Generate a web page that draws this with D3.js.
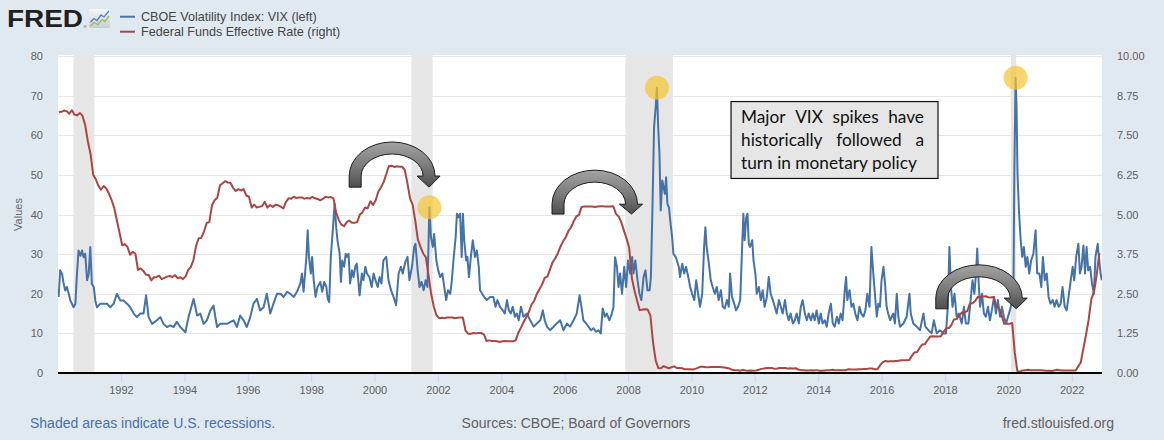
<!DOCTYPE html>
<html><head><meta charset="utf-8">
<script src="https://cdnjs.cloudflare.com/ajax/libs/d3/7.8.5/d3.min.js"></script>
<style>
html,body{margin:0;padding:0;background:#e1e9f0;}
svg{display:block;font-family:"Liberation Sans",Arial,sans-serif;}
</style></head><body>
<svg id="chart" width="1164" height="440"></svg>
<script>
// ---------- DATA ----------
// CBOE VIX (left axis): [decimal year, value]
const vixData = [
[1990.03,19.2],[1990.08,25.9],[1990.14,25.0],[1990.19,22.5],[1990.24,20.8],[1990.29,21.7],[1990.35,20.0],[1990.40,18.3],[1990.45,17.5],[1990.50,16.6],[1990.56,17.5],[1990.61,25.0],[1990.66,30.9],[1990.72,29.6],[1990.77,30.9],[1990.82,29.2],[1990.87,30.1],[1990.93,23.4],[1990.98,25.0],
[1991.03,31.8],[1991.08,22.5],[1991.14,21.7],[1991.19,18.3],[1991.24,16.6],[1991.35,17.5],[1991.45,17.5],[1991.56,17.5],[1991.66,16.6],[1991.77,17.5],[1991.87,20.0],[1991.98,18.3],
[1992.08,18.3],[1992.19,17.5],[1992.29,16.6],[1992.40,15.0],[1992.50,14.1],[1992.61,15.0],[1992.71,15.0],[1992.79,19.6],[1992.87,14.1],[1992.98,12.4],
[1993.13,13.3],[1993.24,14.1],[1993.34,12.4],[1993.45,11.6],[1993.55,12.0],[1993.66,11.6],[1993.76,12.9],[1993.87,11.6],[1993.97,10.8],
[1994.03,10.3],[1994.13,14.1],[1994.29,18.7],[1994.40,14.5],[1994.50,15.0],[1994.61,12.4],[1994.71,13.3],[1994.82,15.8],[1994.92,17.0],
[1995.03,11.6],[1995.13,12.4],[1995.34,12.4],[1995.55,13.3],[1995.66,11.6],[1995.76,14.5],[1995.87,13.3],[1995.97,11.6],
[1996.08,14.1],[1996.18,17.5],[1996.29,18.7],[1996.39,15.8],[1996.50,16.6],[1996.60,20.0],[1996.71,15.0],[1996.81,17.5],[1996.92,20.0],
[1997.03,20.0],[1997.13,19.2],[1997.24,20.5],[1997.34,20.0],[1997.45,19.2],[1997.55,20.5],[1997.66,22.6],[1997.71,25.1],[1997.76,20.5],[1997.85,29.3],[1997.89,36.0],[1997.93,29.3],[1997.99,25.1],
[1998.03,29.3],[1998.08,23.4],[1998.14,19.2],[1998.20,21.7],[1998.29,23.0],[1998.35,20.5],[1998.41,23.0],[1998.48,21.7],[1998.52,18.8],[1998.57,17.9],[1998.62,29.3],[1998.69,36.8],[1998.74,42.7],[1998.79,36.8],[1998.83,33.5],[1998.90,30.1],[1998.94,23.0],[1998.98,28.4],
[1999.04,26.8],[1999.09,30.1],[1999.13,29.3],[1999.18,30.1],[1999.23,22.6],[1999.29,25.9],[1999.34,24.2],[1999.39,26.8],[1999.44,27.6],[1999.53,19.6],[1999.60,25.1],[1999.65,23.4],[1999.71,26.8],[1999.76,25.1],[1999.84,24.2],[1999.91,21.7],[1999.97,25.1],
[2000.03,23.4],[2000.10,21.7],[2000.16,24.2],[2000.22,22.6],[2000.28,28.4],[2000.37,29.3],[2000.44,23.4],[2000.52,20.9],[2000.60,19.2],[2000.68,17.1],[2000.76,25.1],[2000.83,26.8],[2000.89,25.1],[2000.97,28.0],
[2001.04,29.3],[2001.10,23.4],[2001.18,26.8],[2001.25,31.8],[2001.29,32.6],[2001.36,25.9],[2001.42,21.7],[2001.48,23.0],[2001.55,20.9],[2001.61,23.4],[2001.67,21.7],[2001.73,41.8],[2001.78,34.3],[2001.84,31.8],[2001.88,35.1],[2001.95,28.4],
[2002.01,25.9],[2002.07,24.2],[2002.14,25.1],[2002.20,21.7],[2002.26,18.4],[2002.32,20.9],[2002.39,20.0],[2002.44,23.4],[2002.49,28.4],[2002.56,34.3],[2002.60,40.2],[2002.65,39.3],[2002.70,40.2],[2002.75,29.3],[2002.79,40.2],[2002.83,33.5],[2002.89,28.4],[2002.93,29.3],[2002.98,24.2],
[2003.04,29.3],[2003.10,33.5],[2003.17,29.3],[2003.23,30.9],[2003.29,26.8],[2003.33,20.9],[2003.40,20.0],[2003.46,19.2],[2003.54,18.4],[2003.65,19.2],[2003.75,19.2],[2003.82,16.7],[2003.88,18.4],[2003.96,16.7],
[2004.05,15.8],[2004.11,15.0],[2004.18,18.4],[2004.24,15.8],[2004.30,15.0],[2004.36,16.7],[2004.43,14.2],[2004.49,15.0],[2004.55,13.3],[2004.62,16.7],[2004.70,14.2],[2004.81,15.0],[2004.91,13.3],
[2005.02,11.7],[2005.12,12.5],[2005.23,13.3],[2005.31,15.8],[2005.37,13.3],[2005.44,11.7],[2005.54,10.8],[2005.65,11.7],[2005.75,12.5],[2005.86,13.3],[2005.96,10.8],
[2006.07,12.5],[2006.17,11.7],[2006.28,13.3],[2006.38,15.0],[2006.47,19.6],[2006.53,16.7],[2006.59,13.3],[2006.68,12.5],[2006.75,11.7],[2006.83,10.8],[2006.91,11.3],[2006.99,10.4],
[2007.07,10.8],[2007.14,10.0],[2007.20,16.3],[2007.27,14.2],[2007.33,15.0],[2007.41,13.3],[2007.49,15.0],[2007.54,16.7],[2007.59,29.2],[2007.65,26.8],[2007.70,21.7],[2007.75,25.1],[2007.81,20.0],[2007.88,26.8],[2007.94,21.7],
[2008.00,28.4],[2008.07,25.1],[2008.13,29.3],[2008.17,25.1],[2008.23,28.4],[2008.30,23.4],[2008.36,20.0],[2008.42,18.4],[2008.49,24.2],[2008.55,25.9],[2008.61,20.9],[2008.68,20.9],[2008.72,24.2],[2008.77,41.8],[2008.82,62.0],[2008.87,67.0],[2008.91,72.0],[2008.95,62.0],[2008.99,55.3],
[2009.03,41.0],[2009.08,48.6],[2009.12,46.9],[2009.16,45.2],[2009.20,49.4],[2009.24,42.7],[2009.29,41.8],[2009.33,38.5],[2009.39,34.3],[2009.43,30.1],[2009.50,29.3],[2009.54,28.4],[2009.60,26.8],[2009.64,24.2],[2009.71,27.6],[2009.77,25.1],[2009.83,26.8],[2009.90,24.2],[2009.96,21.7],
[2010.02,20.0],[2010.09,18.4],[2010.15,23.4],[2010.21,20.0],[2010.27,16.7],[2010.34,20.0],[2010.40,31.8],[2010.44,36.8],[2010.48,31.8],[2010.55,27.6],[2010.61,23.4],[2010.67,21.7],[2010.74,20.0],[2010.80,21.7],[2010.86,18.4],[2010.93,20.9],[2010.99,16.7],
[2011.05,16.3],[2011.12,18.4],[2011.18,16.7],[2011.22,25.1],[2011.28,19.2],[2011.35,17.5],[2011.41,15.8],[2011.47,16.7],[2011.54,18.4],[2011.60,31.8],[2011.64,40.2],[2011.68,33.5],[2011.73,39.3],[2011.77,40.2],[2011.81,32.6],[2011.85,31.8],[2011.92,33.5],[2011.96,28.4],
[2012.02,25.1],[2012.06,20.0],[2012.13,21.7],[2012.19,18.4],[2012.25,20.9],[2012.31,16.7],[2012.38,19.2],[2012.44,24.2],[2012.50,20.0],[2012.57,18.4],[2012.63,16.7],[2012.69,15.0],[2012.76,18.4],[2012.82,16.7],[2012.88,15.0],[2012.95,18.4],
[2013.01,15.0],[2013.07,13.3],[2013.13,15.0],[2013.20,12.5],[2013.26,13.3],[2013.32,15.0],[2013.39,12.5],[2013.45,16.7],[2013.51,18.4],[2013.58,15.0],[2013.64,13.3],[2013.70,15.0],[2013.77,13.3],[2013.83,15.0],[2013.89,13.3],[2013.95,15.8],
[2014.02,12.5],[2014.08,15.0],[2014.14,12.5],[2014.21,13.3],[2014.27,11.7],[2014.33,15.0],[2014.40,17.5],[2014.46,12.5],[2014.52,11.7],[2014.59,14.2],[2014.65,12.5],[2014.71,15.0],[2014.77,13.3],[2014.84,20.9],[2014.88,24.2],[2014.92,18.4],[2014.99,20.9],
[2015.05,16.7],[2015.11,17.5],[2015.17,15.0],[2015.24,13.3],[2015.30,16.7],[2015.36,15.0],[2015.43,14.2],[2015.49,15.8],[2015.55,20.0],[2015.62,16.7],[2015.68,31.8],[2015.74,25.1],[2015.79,20.0],[2015.85,14.2],[2015.90,17.5],[2015.95,16.7],
[2016.00,23.4],[2016.06,26.8],[2016.11,22.6],[2016.16,16.7],[2016.21,15.0],[2016.27,13.3],[2016.32,14.2],[2016.37,15.0],[2016.42,12.5],[2016.48,20.0],[2016.53,14.2],[2016.58,11.7],[2016.69,12.5],[2016.79,14.2],[2016.88,20.0],[2016.92,15.0],
[2017.00,12.5],[2017.11,11.7],[2017.21,10.8],[2017.32,15.0],[2017.38,11.7],[2017.48,10.8],[2017.58,10.0],[2017.65,13.3],[2017.74,10.0],[2017.84,10.8],[2017.95,10.0],
[2018.03,10.0],[2018.09,16.7],[2018.14,31.8],[2018.19,21.7],[2018.24,16.7],[2018.30,20.0],[2018.37,14.2],[2018.44,15.0],[2018.53,12.5],[2018.60,16.7],[2018.66,12.5],[2018.74,12.5],[2018.81,18.4],[2018.87,23.4],[2018.93,20.0],[2018.98,25.1],
[2019.02,31.4],[2019.06,23.4],[2019.11,16.7],[2019.17,20.0],[2019.23,15.0],[2019.29,14.2],[2019.36,16.7],[2019.42,13.3],[2019.48,15.8],[2019.55,19.2],[2019.61,15.0],[2019.67,18.4],[2019.74,14.2],[2019.80,16.7],[2019.86,14.2],[2019.93,12.5],[2019.99,14.2],
[2020.05,15.8],[2020.10,17.5],[2020.16,18.4],[2020.19,50.2],[2020.23,74.5],[2020.26,67.0],[2020.29,50.2],[2020.34,40.2],[2020.39,33.5],[2020.44,29.3],[2020.49,31.8],[2020.55,26.8],[2020.60,29.3],[2020.66,25.1],[2020.72,28.4],[2020.79,30.1],[2020.86,36.0],[2020.91,25.1],[2020.98,25.1],
[2021.04,21.7],[2021.09,29.3],[2021.15,23.4],[2021.21,25.1],[2021.27,19.2],[2021.33,17.5],[2021.40,18.4],[2021.46,16.7],[2021.52,18.4],[2021.59,16.7],[2021.65,17.5],[2021.71,21.7],[2021.78,16.7],[2021.84,15.8],[2021.90,19.2],[2021.97,23.4],
[2022.03,26.8],[2022.08,23.4],[2022.14,29.3],[2022.21,32.6],[2022.26,25.1],[2022.31,26.8],[2022.37,32.2],[2022.42,25.1],[2022.47,31.8],[2022.52,25.9],[2022.58,26.8],[2022.64,22.6],[2022.70,20.0],[2022.75,29.3],[2022.82,32.6],[2022.87,28.4],[2022.91,25.1],[2022.95,23.4]
];

// Federal Funds Effective Rate (right axis), monthly from Jan 1990
const ffStartYear = 1990;
const ffValues = [
8.23,8.24,8.28,8.26,8.18,8.29,8.15,8.13,8.20,8.11,7.81,7.31,
6.91,6.25,6.12,5.91,5.78,5.90,5.82,5.66,5.45,5.21,4.81,4.43,
4.03,4.06,3.98,3.73,3.82,3.76,3.25,3.30,3.22,3.10,3.09,2.92,
3.02,3.03,3.07,2.96,3.00,3.04,3.06,3.03,3.09,2.99,3.02,2.96,
3.05,3.25,3.34,3.56,4.01,4.25,4.26,4.47,4.73,4.76,5.29,5.45,
5.53,5.92,5.98,6.05,6.01,6.00,5.85,5.74,5.80,5.76,5.80,5.60,
5.56,5.22,5.31,5.22,5.24,5.27,5.40,5.22,5.30,5.24,5.31,5.29,
5.25,5.19,5.39,5.51,5.50,5.56,5.52,5.54,5.54,5.50,5.52,5.50,
5.56,5.51,5.49,5.45,5.49,5.56,5.54,5.55,5.51,5.07,4.83,4.68,
4.63,4.76,4.81,4.74,4.74,4.76,4.99,5.07,5.22,5.20,5.42,5.30,
5.45,5.73,5.85,6.02,6.27,6.53,6.54,6.50,6.52,6.51,6.51,6.40,
5.98,5.49,5.31,4.80,4.21,3.97,3.77,3.65,3.07,2.49,2.09,1.82,
1.73,1.74,1.73,1.75,1.75,1.75,1.73,1.74,1.75,1.75,1.34,1.24,
1.24,1.26,1.25,1.26,1.26,1.22,1.01,1.03,1.01,1.01,1.00,0.98,
1.00,1.01,1.00,1.00,1.00,1.03,1.26,1.43,1.61,1.76,1.93,2.16,
2.28,2.50,2.63,2.79,3.00,3.04,3.26,3.50,3.62,3.78,4.00,4.16,
4.29,4.49,4.59,4.79,4.94,4.99,5.24,5.25,5.25,5.25,5.25,5.24,
5.25,5.26,5.26,5.25,5.25,5.25,5.26,5.02,4.94,4.76,4.49,4.24,
3.94,2.98,2.61,2.28,1.98,2.00,2.01,2.00,1.81,0.97,0.39,0.16,
0.15,0.22,0.18,0.15,0.18,0.21,0.16,0.16,0.15,0.12,0.12,0.12,
0.11,0.13,0.16,0.20,0.20,0.18,0.18,0.19,0.19,0.19,0.19,0.18,
0.17,0.16,0.14,0.10,0.09,0.09,0.07,0.10,0.08,0.07,0.08,0.07,
0.08,0.10,0.13,0.14,0.16,0.16,0.16,0.13,0.14,0.16,0.16,0.16,
0.14,0.15,0.14,0.15,0.11,0.09,0.09,0.08,0.08,0.09,0.08,0.09,
0.07,0.07,0.08,0.09,0.09,0.10,0.09,0.09,0.09,0.09,0.09,0.12,
0.11,0.11,0.11,0.12,0.12,0.13,0.13,0.14,0.14,0.12,0.12,0.24,
0.34,0.38,0.36,0.37,0.37,0.38,0.39,0.40,0.40,0.40,0.41,0.54,
0.65,0.66,0.79,0.90,0.91,1.04,1.15,1.16,1.15,1.15,1.16,1.30,
1.41,1.42,1.51,1.69,1.70,1.82,1.91,1.91,1.95,2.19,2.20,2.27,
2.40,2.40,2.41,2.42,2.39,2.38,2.40,2.13,2.04,1.83,1.55,1.55,
1.55,1.58,0.65,0.05,0.05,0.08,0.09,0.10,0.09,0.09,0.09,0.09,
0.09,0.08,0.07,0.07,0.06,0.08,0.10,0.09,0.08,0.08,0.08,0.08,
0.08,0.08,0.20,0.33,0.77,1.21,1.68,2.33,2.56,3.08,3.78
];

const recessions = [["1990-07-01","1991-03-01"],["2001-03-01","2001-11-01"],["2007-12-01","2009-06-01"],["2020-02-01","2020-04-01"]];
const leftTicks = [0,10,20,30,40,50,60,70,80];
const rightTicks = [0,1.25,2.5,3.75,5,6.25,7.5,8.75,10];
const xTickYears = [1992,1994,1996,1998,2000,2002,2004,2006,2008,2010,2012,2014,2016,2018,2020,2022];
const legendItems = ["CBOE Volatility Index: VIX (left)","Federal Funds Effective Rate (right)"];
const highlightPeaks = [2001.73, 2008.91, 2020.23];   // VIX spikes circled
// curved arrows: left edge (year), tip (year), base / top / leg bottom (left-axis units)
const arrows = [
  {left:1999.20, tip:2001.72, base:49.7, top:58.3, leg:46.9},
  {left:2005.60, tip:2008.11, base:42.6, top:51.2, leg:40.1},
  {left:2017.71, tip:2020.25, base:18.9, top:27.3, leg:16.2}
];
const noteBox = {x0:2011.25, x1:2017.78, yTop:68.5, yBottom:49.1};
const noteLines = ["Major VIX spikes have","historically followed a","turn in monetary policy"];
const footerLeft = "Shaded areas indicate U.S. recessions.";
const footerMid = "Sources: CBOE; Board of Governors";
const footerRight = "fred.stlouisfed.org";

// ---------- HELPERS ----------
function toDate(y){const yr=Math.floor(y);const s=Date.UTC(yr,0,1),e=Date.UTC(yr+1,0,1);return new Date(s+(y-yr)*(e-s));}
const ffData = ffValues.map((v,i)=>[new Date(Date.UTC(ffStartYear+Math.floor(i/12), i%12, 15)), v]);

const W=1164,H=440, L=58,R=1102,T=56,B=373;
const svg=d3.select("#chart");
const x=d3.scaleTime().domain([new Date(Date.UTC(1990,0,5)),new Date(Date.UTC(2022,11,16))]).range([L,R]);
const y=d3.scaleLinear().domain([0,80]).range([B,T]);
const y2=d3.scaleLinear().domain([0,10]).range([B,T]);

svg.append("rect").attr("width",W).attr("height",H).attr("fill","#e1e9f0");
svg.append("rect").attr("x",L).attr("y",T-1).attr("width",R-L).attr("height",B-T+1).attr("fill","#ffffff");

const defs=svg.append("defs");
defs.append("clipPath").attr("id","plotclip").append("rect").attr("x",L).attr("y",T-1).attr("width",R-L).attr("height",B-T+1);
const g=defs.append("linearGradient").attr("id","arrowgrad").attr("x1",0).attr("y1",0).attr("x2",0).attr("y2",1);
g.append("stop").attr("offset","0%").attr("stop-color","#a3a3a3");
g.append("stop").attr("offset","55%").attr("stop-color","#7a7a7a");
g.append("stop").attr("offset","100%").attr("stop-color","#4e4e4e");
const ig=defs.append("linearGradient").attr("id","icongrad").attr("x1",0).attr("y1",0).attr("x2",0).attr("y2",1);
ig.append("stop").attr("offset","0%").attr("stop-color","#f7f7f7");
ig.append("stop").attr("offset","100%").attr("stop-color","#c9cdd2");

// recessions
svg.append("g").selectAll("rect").data(recessions).join("rect")
  .attr("x",d=>x(new Date(d[0]))).attr("width",d=>x(new Date(d[1]))-x(new Date(d[0])))
  .attr("y",T-1).attr("height",B-T+1).attr("fill","#e6e6e6");

// grid
svg.append("g").selectAll("line").data(leftTicks.filter(t=>t>0)).join("line")
  .attr("x1",L).attr("x2",R).attr("y1",d=>Math.round(y(d))+0.5).attr("y2",d=>Math.round(y(d))+0.5)
  .attr("stroke","#e6e6e6").attr("stroke-width",1);

// axes
const xAxis=d3.axisBottom(x).tickValues(xTickYears.map(yy=>new Date(Date.UTC(yy,0,1)))).tickFormat(d3.utcFormat("%Y")).tickSize(9).tickPadding(4);
const gx=svg.append("g").attr("transform",`translate(0,${B})`).call(xAxis);
gx.select(".domain").remove();
gx.selectAll(".tick line").attr("stroke","#ccd6eb");
gx.selectAll("text").attr("fill","#606060").attr("font-size",11).attr("font-family","Liberation Sans, Arial, sans-serif");

const gy=svg.append("g").attr("transform",`translate(${L},0)`).call(d3.axisLeft(y).tickValues(leftTicks).tickSize(0).tickPadding(15));
gy.select(".domain").remove();
gy.selectAll("text").attr("fill","#606060").attr("font-size",11).attr("font-family","Liberation Sans, Arial, sans-serif");

const gy2=svg.append("g").attr("transform",`translate(${R},0)`).call(d3.axisRight(y2).tickValues(rightTicks).tickFormat(d3.format(".2f")).tickSize(0).tickPadding(15));
gy2.select(".domain").remove();
gy2.selectAll("text").attr("fill","#606060").attr("font-size",11).attr("font-family","Liberation Sans, Arial, sans-serif");

svg.append("text").attr("transform",`translate(21.5,${(T+B)/2}) rotate(-90)`).attr("text-anchor","middle")
  .attr("font-size",11).attr("fill","#666").text("Values");

// series
const plot=svg.append("g").attr("clip-path","url(#plotclip)");
plot.append("path").datum(vixData).attr("fill","none").attr("stroke","#4572a7").attr("stroke-width",2).attr("stroke-linejoin","round")
  .attr("d",d3.line().x(d=>x(toDate(d[0]))).y(d=>y(d[1])));
plot.append("path").datum(ffData).attr("fill","none").attr("stroke","#aa4643").attr("stroke-width",2).attr("stroke-linejoin","round")
  .attr("d",d3.line().x(d=>x(d[0])).y(d=>y2(d[1])));

// axis line
svg.append("line").attr("x1",L).attr("x2",R).attr("y1",B).attr("y2",B).attr("stroke","#000").attr("stroke-width",2.2);

// highlight circles on VIX peaks
const peaks=highlightPeaks.map(p=>vixData.reduce((a,b)=>Math.abs(b[0]-p)<Math.abs(a[0]-p)?b:a));
svg.append("g").selectAll("circle").data(peaks).join("circle")
  .attr("cx",d=>x(toDate(d[0]))).attr("cy",d=>y(d[1])).attr("r",12)
  .attr("fill","#f5c431").attr("fill-opacity",0.7);

// curved arrows
function arrowPath(a){
  const Lx=x(toDate(a.left)), Tx=x(toDate(a.tip)), w=12;
  const Ro=(Tx-Lx+w/2)/2, cx=Lx+Ro, Ri=Ro-w;
  const cy=y(a.base), ryO=cy-y(a.top), ryI=ryO-w, yb=y(a.leg);
  return `M${cx-Ro},${yb}L${cx-Ro},${cy}A${Ro},${ryO} 0 0 1 ${cx+Ro},${cy}L${cx+Ro+5},${cy}L${Tx},${yb}L${cx+Ri-6},${cy}L${cx+Ri},${cy}A${Ri},${ryI} 0 0 0 ${cx-Ri},${cy}L${cx-Ri},${yb}Z`;
}
svg.append("g").selectAll("path").data(arrows).join("path").attr("d",arrowPath)
  .attr("fill","url(#arrowgrad)").attr("stroke","#1e1e1e").attr("stroke-width",1).attr("stroke-linejoin","miter");

// note box
const bx0=x(toDate(noteBox.x0)), bx1=x(toDate(noteBox.x1)), by0=y(noteBox.yTop), by1=y(noteBox.yBottom);
svg.append("rect").attr("x",bx0).attr("y",by0).attr("width",bx1-bx0).attr("height",by1-by0)
  .attr("fill","#e6e6e6").attr("stroke","#111").attr("stroke-width",1.2);
const noteG=svg.append("g").attr("font-family","Lato, 'Open Sans', sans-serif").attr("fill","#111");
const tx0=bx0+10, tx1=bx1-14, lineW=tx1-tx0;
function drawNote(){
  noteG.selectAll("*").remove();
  let fs=17;
  const probe=noteG.append("text").attr("font-size",fs).text(noteLines[2]);
  const pw=probe.node().getComputedTextLength(); probe.remove();
  fs=fs*176/pw;
  noteLines.forEach((ln,i)=>{
    const by=by0+21.8+i*22.8;
    if(i===noteLines.length-1){
      noteG.append("text").attr("x",tx0).attr("y",by).attr("font-size",fs).text(ln);
      return;
    }
    const words=ln.split(" ");
    const els=words.map(w=>noteG.append("text").attr("y",by).attr("font-size",fs).text(w));
    const ws=els.map(e=>e.node().getComputedTextLength());
    const gap=(lineW-d3.sum(ws))/(words.length-1);
    let cx=tx0;
    els.forEach((e,j)=>{
      if(j===els.length-1){ e.attr("x",tx1).attr("text-anchor","end"); }
      else { e.attr("x",cx); cx+=ws[j]+gap; }
    });
  });
}
drawNote();
if(document.fonts&&document.fonts.ready){document.fonts.ready.then(drawNote);}

// header: FRED logo
svg.append("text").attr("x",7).attr("y",27.3).attr("font-size",24).attr("font-weight","bold")
  .attr("textLength",76).attr("lengthAdjust","spacingAndGlyphs").attr("fill","#231f20").text("FRED");
svg.append("text").attr("x",83.5).attr("y",27.5).attr("font-size",4).attr("fill","#231f20").text("®");
svg.append("rect").attr("x",89).attr("y",9).attr("width",21).attr("height",19).attr("rx",1.5).attr("fill","url(#icongrad)");
svg.append("polyline").attr("points","90.5,22 94,18.5 97,20.5 101,15 104,17 109,11").attr("fill","none").attr("stroke","#4f7fc0").attr("stroke-width",1.3);
svg.append("polyline").attr("points","90.5,26 94,22.5 98,24.5 102,19.5 105,21.5 109,16").attr("fill","none").attr("stroke","#8cc152").attr("stroke-width",1.3);

// legend
const legColors=["#4572a7","#aa4643"];
legendItems.forEach((t,i)=>{
  const ly=16.7+i*15;
  svg.append("line").attr("x1",120).attr("x2",135).attr("y1",ly).attr("y2",ly).attr("stroke",legColors[i]).attr("stroke-width",2);
  svg.append("text").attr("x",141).attr("y",ly+4.3).attr("font-size",12.6).attr("fill","#444").text(t);
});

// footer
svg.append("text").attr("x",30).attr("y",428).attr("font-size",14).attr("fill","#4470ad").text(footerLeft);
svg.append("text").attr("x",576).attr("y",428).attr("text-anchor","middle").attr("font-size",14).attr("fill","#606060").text(footerMid);
svg.append("text").attr("x",1114).attr("y",428).attr("text-anchor","end").attr("font-size",14).attr("fill","#606060").text(footerRight);
</script>
</body></html>
